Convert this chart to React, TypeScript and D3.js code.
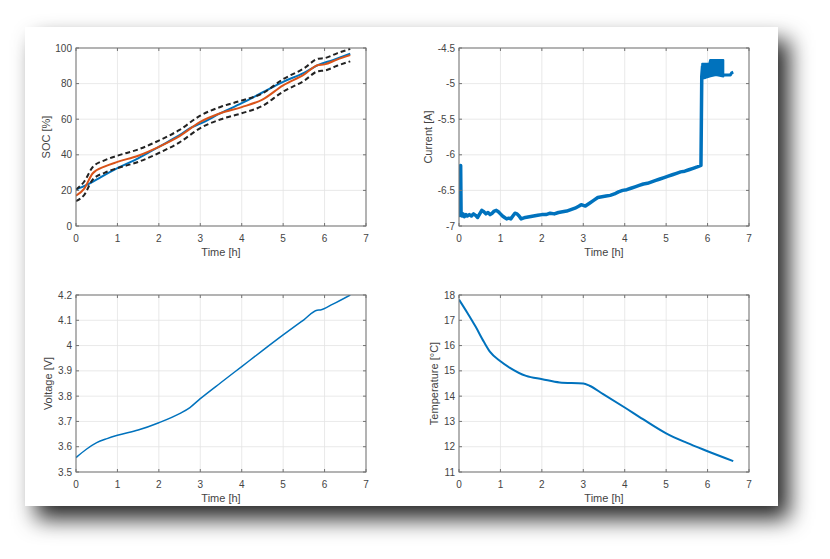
import React from "react";
import * as d3 from "d3";

// ---------- data ----------
const timeTicks = [0, 1, 2, 3, 4, 5, 6, 7];
const socTicks = [0, 20, 40, 60, 80, 100];
const currentTicks = [-7, -6.5, -6, -5.5, -5, -4.5];
const voltageTicks = [3.5, 3.6, 3.7, 3.8, 3.9, 4.0, 4.1, 4.2];
const tempTicks = [11, 12, 13, 14, 15, 16, 17, 18];

const socMeasured: [number, number][] = [
  [0, 20.5], [0.3, 23.5], [0.6, 27.5], [1, 32.5], [1.5, 38], [2, 44.5], [2.5, 51], [2.8, 55.5],
  [3, 57.5], [3.5, 63.5], [4, 69], [4.5, 75], [5, 81], [5.5, 86], [5.85, 90.5], [6.2, 93.2], [6.62, 96.8],
];
const socEstimated: [number, number][] = [
  [0, 17], [0.2, 21], [0.4, 29.5], [0.7, 33.5], [1, 36], [1.5, 39.5], [2, 44.5], [2.5, 50.5],
  [3, 58.5], [3.5, 63.5], [4, 66.8], [4.5, 71], [5, 79], [5.5, 85], [5.85, 90.5], [6, 90.8], [6.3, 93.5], [6.62, 96],
];
const socUpper: [number, number][] = [
  [0, 20.5], [0.2, 25], [0.4, 33], [0.7, 37], [1, 39.5], [1.5, 43], [2, 48], [2.5, 54],
  [3, 62], [3.5, 67], [4, 70.5], [4.5, 74.5], [5, 82.5], [5.5, 88.5], [5.85, 94], [6, 94.3], [6.3, 97], [6.62, 99.5],
];
const socLower: [number, number][] = [
  [0, 14], [0.2, 17.5], [0.4, 26], [0.7, 30], [1, 32.5], [1.5, 36], [2, 41], [2.5, 47],
  [3, 55], [3.5, 60], [4, 63.3], [4.5, 67.5], [5, 75.5], [5.5, 81.5], [5.85, 87], [6, 87.3], [6.3, 90], [6.62, 92.5],
];

const currentMain: [number, number][] = [
  [0, -6.82], [0.02, -6.85], [0.04, -6.15], [0.05, -6.8], [0.07, -6.86], [0.1, -6.83], [0.13, -6.87],
  [0.17, -6.84], [0.2, -6.86], [0.25, -6.84], [0.3, -6.86], [0.35, -6.83], [0.4, -6.85], [0.45, -6.88],
  [0.5, -6.83], [0.55, -6.78], [0.6, -6.8], [0.65, -6.83], [0.7, -6.81], [0.75, -6.84], [0.8, -6.82],
  [0.85, -6.79], [0.9, -6.78], [0.95, -6.8], [1.0, -6.83], [1.05, -6.86], [1.1, -6.88], [1.15, -6.9],
  [1.2, -6.89], [1.25, -6.9], [1.3, -6.86], [1.35, -6.82], [1.4, -6.83], [1.45, -6.86], [1.5, -6.9],
  [1.55, -6.89], [1.6, -6.88], [1.7, -6.87], [1.8, -6.86], [1.9, -6.85], [2, -6.84], [2.1, -6.84],
  [2.2, -6.82], [2.3, -6.83], [2.4, -6.81], [2.5, -6.8], [2.6, -6.79], [2.7, -6.77], [2.8, -6.75],
  [2.9, -6.72], [2.95, -6.7], [3.05, -6.72], [3.15, -6.68], [3.25, -6.64], [3.35, -6.6], [3.45, -6.59],
  [3.55, -6.58], [3.65, -6.57], [3.75, -6.55], [3.85, -6.52], [3.95, -6.5], [4.05, -6.49], [4.15, -6.47],
  [4.25, -6.45], [4.35, -6.43], [4.45, -6.41], [4.55, -6.4], [4.65, -6.38], [4.75, -6.36], [4.85, -6.34],
  [4.95, -6.32], [5.05, -6.3], [5.15, -6.28], [5.25, -6.26], [5.35, -6.24], [5.45, -6.23], [5.55, -6.21],
  [5.65, -6.19], [5.75, -6.17], [5.84, -6.15], [5.86, -4.9], [5.88, -4.75],
];
const currentRippleTop: [number, number][] = [
  [5.87, -4.72], [6.04, -4.72], [6.06, -4.67], [6.38, -4.67],
];
const currentRippleBottom: [number, number][] = [
  [5.87, -4.93], [5.95, -4.92], [6.05, -4.9], [6.2, -4.88], [6.38, -4.9],
];
const currentTail: [number, number][] = [
  [6.38, -4.88], [6.45, -4.88], [6.55, -4.88], [6.58, -4.85], [6.62, -4.84],
];

const voltage: [number, number][] = [
  [0, 3.557], [0.25, 3.59], [0.5, 3.616], [0.75, 3.632], [1, 3.645], [1.5, 3.666], [2, 3.695],
  [2.5, 3.731], [2.75, 3.755], [3, 3.79], [3.5, 3.854], [4, 3.917], [4.5, 3.98], [5, 4.042],
  [5.5, 4.102], [5.82, 4.14], [5.9, 4.141], [6.2, 4.164], [6.62, 4.2],
];

const temperature: [number, number][] = [
  [0, 17.82], [0.2, 17.3], [0.4, 16.75], [0.6, 16.15], [0.75, 15.75], [1.0, 15.38], [1.22, 15.13],
  [1.62, 14.8], [2.01, 14.67], [2.43, 14.54], [3.0, 14.5], [3.15, 14.41], [3.48, 14.08], [4.0, 13.55],
  [4.44, 13.09], [5.0, 12.53], [5.49, 12.16], [5.97, 11.84], [6.62, 11.43],
];

// ---------- styles ----------
const BLUE = "#0072BD";
const ORANGE = "#D95319";
const AXIS = "#737373";
const TEXT = "#444";
const GRID = "#e3e3e3";
const FONT = "'Liberation Sans', Arial, Helvetica, sans-serif";

type SubProps = {
  x0: number; y0: number; w: number; h: number;
  yDomain: [number, number]; yTicks: number[]; yLabel: string; labelX: number;
  children: (x: d3.ScaleLinear<number, number>, y: d3.ScaleLinear<number, number>) => React.ReactNode;
};

function fmt(v: number) {
  return String(Math.round(v * 1000) / 1000);
}

function Subplot({ x0, y0, w, h, yDomain, yTicks, yLabel, labelX, children }: SubProps) {
  const x = d3.scaleLinear().domain([0, 7]).range([x0, x0 + w]);
  const y = d3.scaleLinear().domain(yDomain).range([y0 + h, y0]);
  const tl = 3;
  const clipId = "clip" + x0 + "_" + y0;
  return (
    <g>
      <defs>
        <clipPath id={clipId}>
          <rect x={x0} y={y0} width={w} height={h} />
        </clipPath>
      </defs>
      <rect x={x0} y={y0} width={w} height={h} fill="#fff" />
      {timeTicks.map((t) => (
        <line key={"gx" + t} x1={x(t)} x2={x(t)} y1={y0} y2={y0 + h} stroke={GRID} strokeWidth={0.8} />
      ))}
      {yTicks.map((t) => (
        <line key={"gy" + t} x1={x0} x2={x0 + w} y1={y(t)} y2={y(t)} stroke={GRID} strokeWidth={0.8} />
      ))}
      <g clipPath={`url(#${clipId})`}>{children(x, y)}</g>
      {timeTicks.map((t) => (
        <g key={"tx" + t}>
          <line x1={x(t)} x2={x(t)} y1={y0 + h} y2={y0 + h - tl} stroke={AXIS} />
          <line x1={x(t)} x2={x(t)} y1={y0} y2={y0 + tl} stroke={AXIS} />
          <text x={x(t)} y={y0 + h + 16} textAnchor="middle" fontSize={10} fill={TEXT} fontFamily={FONT}>
            {fmt(t)}
          </text>
        </g>
      ))}
      {yTicks.map((t) => (
        <g key={"ty" + t}>
          <line x1={x0} x2={x0 + tl} y1={y(t)} y2={y(t)} stroke={AXIS} />
          <line x1={x0 + w} x2={x0 + w - tl} y1={y(t)} y2={y(t)} stroke={AXIS} />
          <text x={x0 - 4} y={y(t) + 3.5} textAnchor="end" fontSize={10} fill={TEXT} fontFamily={FONT}>
            {fmt(t)}
          </text>
        </g>
      ))}
      <rect x={x0} y={y0} width={w} height={h} fill="none" stroke={AXIS} strokeWidth={1} />
      <text x={x0 + w / 2} y={y0 + h + 30} textAnchor="middle" fontSize={11} fill={TEXT} fontFamily={FONT}>
        Time [h]
      </text>
      <text
        transform={`translate(${labelX},${y0 + h / 2}) rotate(-90)`}
        textAnchor="middle"
        dy="0.35em"
        fontSize={11}
        fill={TEXT}
        fontFamily={FONT}
      >
        {yLabel}
      </text>
    </g>
  );
}

export default function App() {
  const mk = (x: d3.ScaleLinear<number, number>, y: d3.ScaleLinear<number, number>, curve: d3.CurveFactory = d3.curveMonotoneX) =>
    d3.line<[number, number]>().x((d) => x(d[0])).y((d) => y(d[1])).curve(curve);

  return (
    <svg width={830} height={559} style={{ position: "absolute", left: 0, top: 0, background: "#fff" }}>
      <defs>
        <filter id="shadow" x="-10%" y="-10%" width="130%" height="135%">
          <feDropShadow dx={11} dy={13} stdDeviation={11} floodColor="#000" floodOpacity={0.85} />
        </filter>
      </defs>
      <rect x={0} y={0} width={830} height={559} fill="#fff" />
      <rect x={25} y={27} width={753} height={479} fill="#fff" filter="url(#shadow)" />

      <Subplot x0={76} y0={48} w={290} h={178} yDomain={[0, 100]} yTicks={socTicks} yLabel="SOC [%]" labelX={46}>
        {(x, y) => (
          <g fill="none">
            <path d={mk(x, y)(socMeasured) || ""} stroke={BLUE} strokeWidth={2} />
            <path d={mk(x, y)(socEstimated) || ""} stroke={ORANGE} strokeWidth={2} />
            <path d={mk(x, y)(socUpper) || ""} stroke="#222" strokeWidth={2} strokeDasharray="5 3" />
            <path d={mk(x, y)(socLower) || ""} stroke="#222" strokeWidth={2} strokeDasharray="5 3" />
          </g>
        )}
      </Subplot>

      <Subplot x0={459} y0={48} w={290} h={178} yDomain={[-7, -4.5]} yTicks={currentTicks} yLabel="Current [A]" labelX={428}>
        {(x, y) => {
          const band = [
            ...currentRippleTop.map((d) => [x(d[0]), y(d[1])]),
            ...[...currentRippleBottom].reverse().map((d) => [x(d[0]), y(d[1])]),
          ];
          return (
            <g fill="none">
              <path d={mk(x, y, d3.curveLinear)(currentMain) || ""} stroke={BLUE} strokeWidth={3.5} strokeLinejoin="round" />
              <path d={"M" + band.map((p) => p.join(",")).join("L") + "Z"} fill={BLUE} stroke={BLUE} strokeWidth={2} strokeLinejoin="round" />
              <path d={mk(x, y, d3.curveLinear)(currentTail) || ""} stroke={BLUE} strokeWidth={3} strokeLinejoin="round" />
            </g>
          );
        }}
      </Subplot>

      <Subplot x0={76} y0={295} w={290} h={177} yDomain={[3.5, 4.2]} yTicks={voltageTicks} yLabel="Voltage [V]" labelX={48}>
        {(x, y) => <path d={mk(x, y)(voltage) || ""} fill="none" stroke={BLUE} strokeWidth={1.5} />}
      </Subplot>

      <Subplot x0={459} y0={295} w={290} h={177} yDomain={[11, 18]} yTicks={tempTicks} yLabel="Temperature [°C]" labelX={434}>
        {(x, y) => <path d={mk(x, y)(temperature) || ""} fill="none" stroke={BLUE} strokeWidth={2} />}
      </Subplot>
    </svg>
  );
}
